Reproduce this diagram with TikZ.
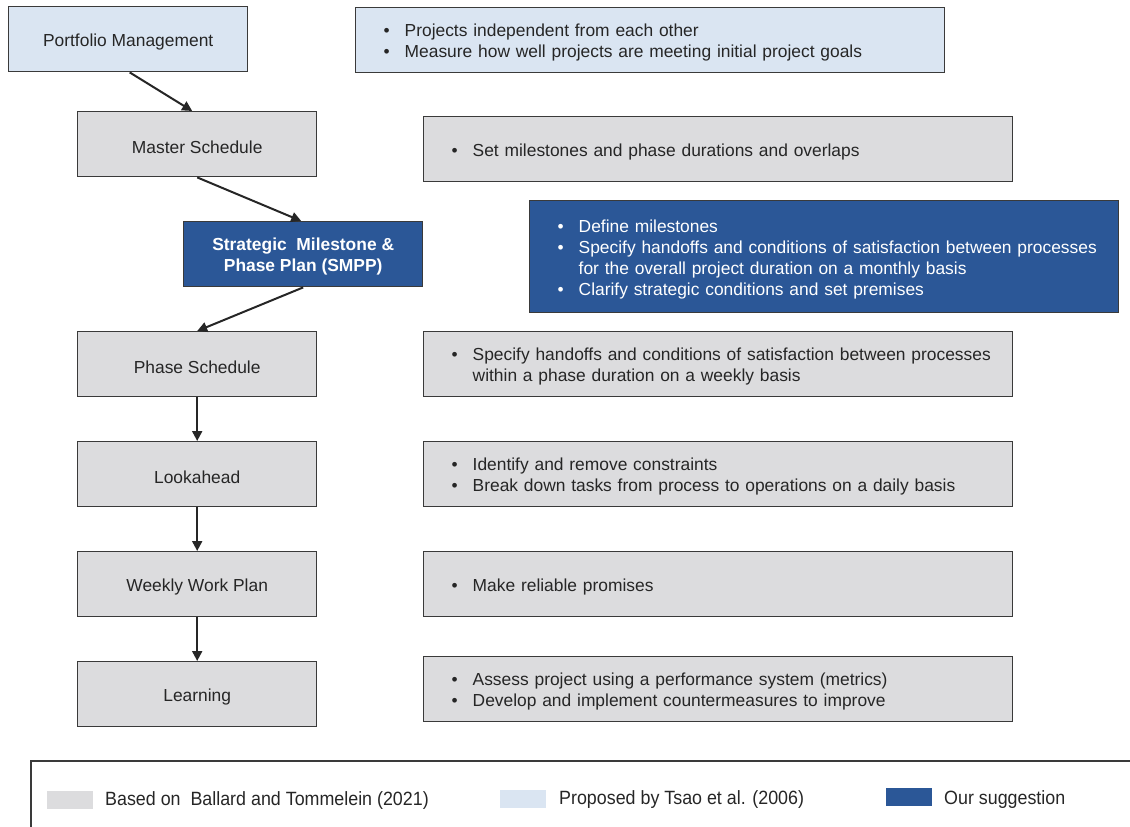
\documentclass[tikz,border=0pt]{standalone}
\usepackage{fontspec}
\setmainfont{Liberation Sans}
\newfontfamily\narrowfont[FakeStretch=0.93]{Liberation Sans}
\usetikzlibrary{arrows.meta}
\definecolor{lblue}{RGB}{218,229,242}
\definecolor{lgray}{RGB}{220,220,222}
\definecolor{dblue}{RGB}{43,87,151}
\definecolor{bord}{RGB}{58,58,58}
\definecolor{txt}{RGB}{38,38,38}
\newcommand\bul{\makebox[21pt][l]{\textbullet}}
\newcommand\up{\rule{0pt}{17.8pt}}
\newcommand\li[1]{\mbox{\bul #1}}
\newcommand\lc[1]{\mbox{\hspace*{21pt}#1}}
\tikzset{
  base/.style={draw=bord, line width=1.4pt, inner sep=0pt, anchor=north west,
    font=\fontsize{17.4}{21}\selectfont, text=txt},
  lbox/.style={base, minimum width=239pt, minimum height=65pt, align=center},
  info/.style={base, inner xsep=28pt, text width=533pt, minimum height=65pt, align=left},
  arr/.style={draw=txt, line width=2pt, -{Triangle[length=10pt,width=10pt]}},
  swatch/.style={anchor=north west, minimum width=46pt, minimum height=18pt, inner sep=0pt},
  leg/.style={anchor=west, inner sep=0pt, font=\narrowfont\fontsize{19.2}{21}\selectfont, text=txt}
}
\begin{document}
\begin{tikzpicture}[x=1pt,y=-1pt]
\useasboundingbox (0,0) rectangle (1130,827);
% left column
\node[lbox, fill=lblue] (pm) at (8,6) {\up Portfolio Management};
\node[lbox, fill=lgray] (ms) at (77,111) {\up Master Schedule};
\node[lbox, fill=dblue, text=white, font=\bfseries\fontsize{17.4}{21}\selectfont] (smpp) at (183,221) {\up Strategic\ \ Milestone \&\\Phase Plan (SMPP)};
\node[lbox, fill=lgray] (ps) at (77,331) {\up Phase Schedule};
\node[lbox, fill=lgray] (la) at (77,441) {\up Lookahead};
\node[lbox, fill=lgray] (wwp) at (77,551) {\up Weekly Work Plan};
\node[lbox, fill=lgray] (lrn) at (77,661) {\up Learning};
% right column
\node[info, fill=lblue] (ipm) at (355,7) {\up\li{Projects independent from each other}\\\li{Measure how well projects are meeting initial project goals}};
\node[info, fill=lgray] (ims) at (423,116) {\up\li{Set milestones and phase durations and overlaps}};
\node[info, fill=dblue, text=white, minimum height=112pt] (ismpp) at (529,200) {\up\li{Define milestones}\\\li{Specify handoffs and conditions of satisfaction between processes}\\\lc{for the overall project duration on a monthly basis}\\\li{Clarify strategic conditions and set premises}};
\node[info, fill=lgray] (ips) at (423,331) {\up\li{Specify handoffs and conditions of satisfaction between processes}\\\lc{within a phase duration on a weekly basis}};
\node[info, fill=lgray] (ila) at (423,441) {\up\li{Identify and remove constraints}\\\li{Break down tasks from process to operations on a daily basis}};
\node[info, fill=lgray] (iwwp) at (423,551) {\up\li{Make reliable promises}};
\node[info, fill=lgray] (ilrn) at (423,656) {\up\li{Assess project using a performance system (metrics)}\\\li{Develop and implement countermeasures to improve}};
% arrows
\draw[arr] ([xshift=1.5pt]pm.south) -- ([xshift=-5pt]ms.north);
\draw[arr] (ms.south) -- ([xshift=-2pt]smpp.north);
\draw[arr] (smpp.south) -- (ps.north);
\draw[arr] (ps.south) -- (la.north);
\draw[arr] (la.south) -- (wwp.north);
\draw[arr] (wwp.south) -- (lrn.north);
% legend
\draw[draw=bord, line width=1.4pt] (31,827) -- (31,761) -- (1130,761);
\node[swatch, fill=lgray] (s1) at (47,791) {};
\node[leg] (l1) at (105,801) {Based on\ \ Ballard and Tommelein (2021)};
\node[swatch, fill=lblue] (s2) at (500,790) {};
\node[leg] (l2) at (559,800) {Proposed by Tsao et al. (2006)};
\node[swatch, fill=dblue] (s3) at (886,788) {};
\node[leg] (l3) at (944,800) {Our suggestion};
\end{tikzpicture}
\end{document}
